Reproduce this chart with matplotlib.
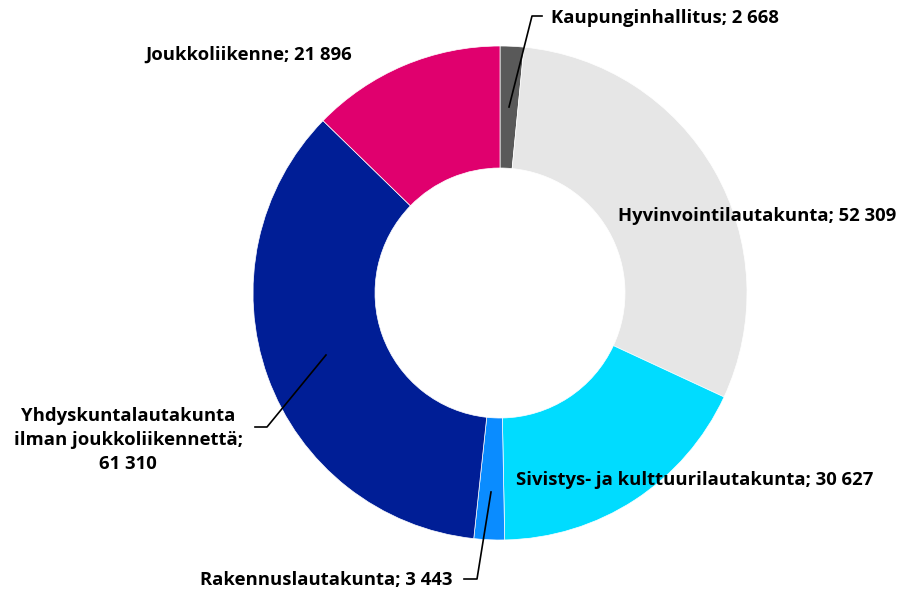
import matplotlib.pyplot as plt

# Talousarvio toimielimittäin
labels = [
    "Kaupunginhallitus",
    "Hyvinvointilautakunta",
    "Sivistys- ja kulttuurilautakunta",
    "Rakennuslautakunta",
    "Yhdyskuntalautakunta\nilman joukkoliikennettä",
    "Joukkoliikenne",
]
values = [2668, 52309, 30627, 3443, 61310, 21896]
colors = ["#595959", "#E6E6E6", "#00DCFF", "#0A8CFF", "#001E96", "#E0006E"]

W, H = 897, 595
CX, CY = 500, 293
R_OUT, R_IN = 247, 125


def fmt(v):
    return f"{v:,}".replace(",", " ")


def py(y):
    # pikselin y (ylhäältä) -> datan y (alhaalta)
    return H - y


plt.rcParams['font.family'] = ['Open Sans', 'DejaVu Sans']

fig = plt.figure(figsize=(W / 100, H / 100), dpi=100)
ax = fig.add_axes([0, 0, 1, 1])

ax.pie(values, colors=colors, startangle=90, counterclock=False,
       center=(CX, py(CY)), radius=R_OUT,
       wedgeprops=dict(width=R_OUT - R_IN, edgecolor="white", linewidth=0.5))

ax.set_xlim(0, W)
ax.set_ylim(0, H)
ax.set_aspect('equal')
ax.axis('off')

text_kw = dict(fontsize=13.3, fontweight="bold", color="black")

# tekstit: (x, y, ha, va)
pos = [
    (551, 18, "left", "center"),
    (618, 216, "left", "center"),
    (695, 480, "center", "center"),
    (452, 580, "right", "center"),
    (128, 440, "center", "center"),
    (249, 55, "center", "center"),
]
for lab, v, (x, y, ha, va) in zip(labels, values, pos):
    txt = f"{lab}; {fmt(v)}"
    if "\n" in lab:
        txt = f"{lab};\n{fmt(v)}"
    ax.text(x, py(y), txt, ha=ha, va=va, linespacing=1.4, **text_kw)

# viivat
leaders = [
    [(509, 107), (532, 16), (542, 16)],
    [(491, 492), (477, 579), (464, 579)],
    [(326, 355), (267, 427), (255, 427)],
]
for pts in leaders:
    xs = [p[0] for p in pts]
    ys = [py(p[1]) for p in pts]
    ax.plot(xs, ys, color="black", linewidth=1.2)

fig.savefig("out.png", dpi=100)
